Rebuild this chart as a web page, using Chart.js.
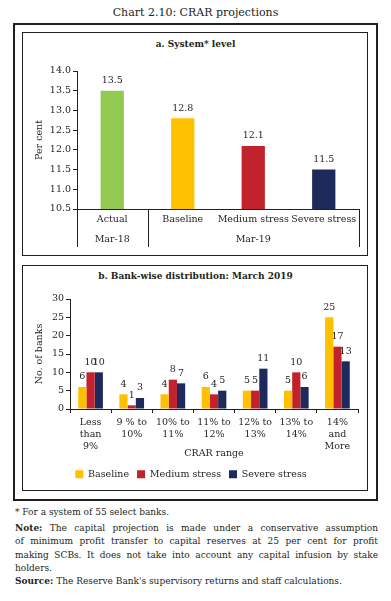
<!DOCTYPE html>
<html><head><meta charset="utf-8">
<script src="https://cdn.jsdelivr.net/npm/chart.js@4.4.0/dist/chart.umd.min.js"></script>
<style>
body{margin:0;background:#fff;width:391px;height:601px;position:relative;overflow:hidden;font-family:"DejaVu Serif",serif;color:#231f20;}
.abs{position:absolute;}
#title{left:0;width:391px;top:6px;text-align:center;font-size:11px;}
#outer{left:13px;top:23px;width:361px;height:474px;border:2px solid #231f20;}
.panel{border:1.5px solid #231f20;left:22px;width:344px;}
.ptitle{left:22px;width:347px;text-align:center;font-weight:bold;font-size:9px;}
.note{left:15px;width:363px;font-size:9px;line-height:13.3px;}
.j{text-align:justify;text-align-last:justify;}
</style></head>
<body>
<div id="title" class="abs">Chart 2.10: CRAR projections</div>
<div id="outer" class="abs"></div>
<div class="abs panel" style="top:32px;height:222px;"></div>
<div class="abs panel" style="top:265px;height:224px;"></div>
<div class="abs ptitle" style="top:39px;">a. System* level</div>
<div class="abs ptitle" style="top:271px;">b. Bank-wise distribution: March 2019</div>
<div class="abs" style="left:24px;top:56px;width:344px;height:200px;"><canvas id="ca"></canvas></div>
<div class="abs" style="left:24px;top:288px;width:344px;height:201px;"><canvas id="cb"></canvas></div>
<div class="abs note" style="top:506px;">* For a system of 55 select banks.</div>
<div class="abs note" style="top:522px;">
<div class="j"><b>Note:</b> The capital projection is made under a conservative assumption</div>
<div class="j">of minimum profit transfer to capital reserves at 25 per cent for profit</div>
<div class="j">making SCBs. It does not take into account any capital infusion by stake</div>
<div>holders.</div>
<div><b>Source:</b> The Reserve Bank's supervisory returns and staff calculations.</div>
</div>
<script>
// ---- Data ----
const systemCategories = ["Actual", "Baseline", "Medium stress", "Severe stress"];
const systemGroups = ["Mar-18", "Mar-19"];
const systemValues = [13.5, 12.8, 12.1, 11.5];
const systemColors = ["#92C950", "#FFC000", "#C1222B", "#1F2A5C"];
const systemTicks = [10.5, 11.0, 11.5, 12.0, 12.5, 13.0, 13.5, 14.0];

const bankCategories = [["Less","than","9%"], ["9 % to","10%"], ["10% to","11%"], ["11% to","12%"], ["12% to","13%"], ["13% to","14%"], ["14%","and","More"]];
const baselineBanks = [6, 4, 4, 6, 5, 5, 25];
const mediumBanks   = [10, 1, 8, 4, 5, 10, 17];
const severeBanks   = [10, 3, 7, 5, 11, 6, 13];
const bankTicks = [0, 5, 10, 15, 20, 25, 30];

const FONT = "DejaVu Serif";
const TXT = "#231f20";
Chart.defaults.font.family = FONT;
Chart.defaults.font.size = 9.5;
Chart.defaults.color = TXT;
Chart.defaults.animation = false;
Chart.defaults.responsive = true;
Chart.defaults.maintainAspectRatio = false;

const valueLabels = {
  id: 'valueLabels',
  afterDatasetsDraw(chart) {
    const ctx = chart.ctx;
    ctx.save();
    ctx.font = "9.5px " + FONT;
    ctx.fillStyle = TXT;
    ctx.textAlign = 'center';
    ctx.textBaseline = 'middle';
    chart.data.datasets.forEach((ds, di) => {
      chart.getDatasetMeta(di).data.forEach((bar, i) => {
        const v = ds.data[i];
        const t = chart.config.options.plugins.valueLabels.fmt(v);
        ctx.fillText(t, bar.x, bar.y - 10);
      });
    });
    ctx.restore();
  }
};

const groupAxis = {
  id: 'groupAxis',
  afterDraw(chart) {
    const x = chart.scales.x, ctx = chart.ctx, area = chart.chartArea;
    const y0 = area.bottom, y1 = area.bottom + 38;
    const mid = (x.getPixelForValue(0) + x.getPixelForValue(1)) / 2;
    ctx.save();
    ctx.strokeStyle = TXT; ctx.lineWidth = 1;
    [area.left, mid, area.right].forEach(px => {
      ctx.beginPath(); ctx.moveTo(Math.round(px)+0.5, y0); ctx.lineTo(Math.round(px)+0.5, y1); ctx.stroke();
    });
    ctx.font = "9.5px " + FONT; ctx.fillStyle = TXT; ctx.textAlign = 'center'; ctx.textBaseline = 'middle';
    ctx.fillText(systemGroups[0], (area.left + mid) / 2, area.bottom + 31);
    ctx.fillText(systemGroups[1], (mid + area.right) / 2, area.bottom + 31);
    ctx.restore();
  }
};

new Chart(document.getElementById('ca'), {
  type: 'bar',
  data: { labels: systemCategories, datasets: [{ data: systemValues, backgroundColor: systemColors, barPercentage: 0.33, categoryPercentage: 1 }] },
  options: {
    layout: { padding: { top: 15, right: 9, left: 0, bottom: 0 } },
    plugins: { legend: { display: false }, tooltip: { enabled: false }, valueLabels: { fmt: v => v.toFixed(1) } },
    scales: {
      x: { grid: { display: false, drawTicks: false }, border: { display: true, color: TXT, width: 1 },
           ticks: { padding: 5, maxRotation: 0, autoSkip: false },
           afterFit: s => { s.height = 47; } },
      y: { min: 10.5, max: 14, afterBuildTicks: s => { s.ticks = systemTicks.map(v => ({ value: v })); },
           grid: { display: true, drawOnChartArea: false, drawTicks: true, tickLength: 4, color: TXT },
           border: { display: true, color: TXT, width: 1 },
           ticks: { padding: 2, callback: v => Number(v).toFixed(1) },
           title: { display: true, text: 'Per cent', padding: { top: 10, bottom: 0 } },
           afterFit: s => { s.width = 53; } }
    }
  },
  plugins: [valueLabels, groupAxis]
});

new Chart(document.getElementById('cb'), {
  type: 'bar',
  data: { labels: bankCategories, datasets: [
    { label: 'Baseline', data: baselineBanks, backgroundColor: '#FFC000' },
    { label: 'Medium stress', data: mediumBanks, backgroundColor: '#C1222B' },
    { label: 'Severe stress', data: severeBanks, backgroundColor: '#1F2A5C' }
  ] },
  options: {
    datasets: { bar: { barPercentage: 1, categoryPercentage: 0.6 } },
    layout: { padding: { top: 11, right: 10, left: 0, bottom: 0 } },
    plugins: {
      tooltip: { enabled: false },
      valueLabels: { fmt: v => String(v) },
      legend: { position: 'bottom', labels: { boxWidth: 8, boxHeight: 8, padding: 8, font: { size: 9.5 } } }
    },
    scales: {
      x: { grid: { display: true, drawOnChartArea: false, drawTicks: true, tickLength: 4, color: TXT, offset: true },
           border: { display: true, color: TXT, width: 1 },
           ticks: { padding: 3, maxRotation: 0, autoSkip: false, font: { lineHeight: 1.3 } },
           title: { display: true, text: 'CRAR range', padding: { top: 0, bottom: 2 } },
           afterFit: s => { s.height = s.chart.height - 121 - (s.chart.legend ? s.chart.legend.height : 0); } },
      y: { min: 0, max: 30, afterBuildTicks: s => { s.ticks = bankTicks.map(v => ({ value: v })); },
           grid: { display: true, drawOnChartArea: false, drawTicks: true, tickLength: 4, color: TXT },
           border: { display: true, color: TXT, width: 1 },
           ticks: { padding: 2 },
           title: { display: true, text: 'No. of banks', padding: { top: 10, bottom: 0 } },
           afterFit: s => { s.width = 46; } }
    }
  },
  plugins: [valueLabels]
});
</script>
</body></html>
